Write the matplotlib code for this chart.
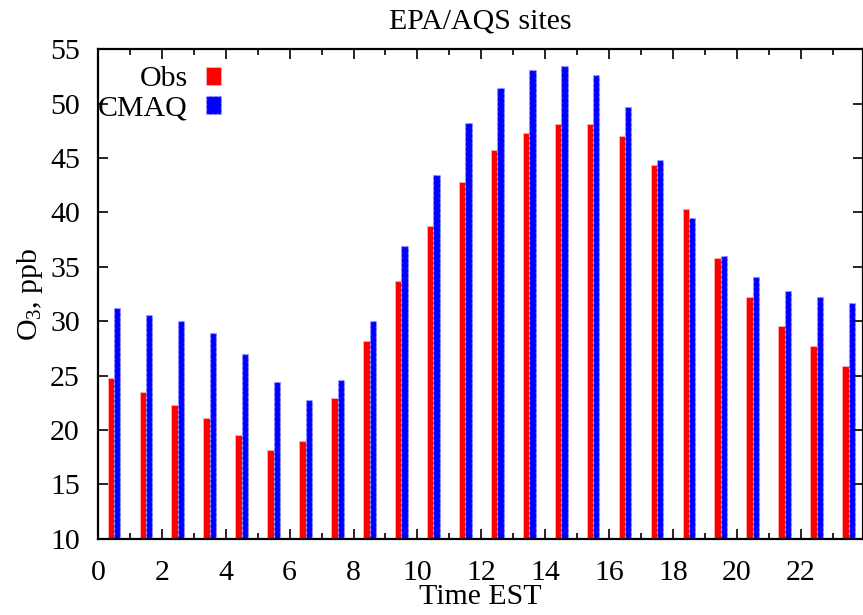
import numpy as np
import matplotlib.pyplot as plt
from matplotlib.ticker import MultipleLocator

hours = np.arange(24)
obs = [24.8, 23.5, 22.3, 21.1, 19.5, 18.2, 19.0, 22.9, 28.2, 33.7, 38.8, 42.8,
       45.7, 47.3, 48.1, 48.1, 47.0, 44.4, 40.3, 35.8, 32.2, 29.6, 27.7, 25.9]
cmaq = [31.2, 30.6, 30.0, 28.9, 27.0, 24.4, 22.8, 24.6, 30.0, 36.9, 43.4, 48.2,
        51.4, 53.1, 53.5, 52.6, 49.7, 44.8, 39.5, 36.0, 34.1, 32.8, 32.2, 31.7]

plt.rcParams['font.family'] = ['Liberation Serif', 'DejaVu Serif']
plt.rcParams['mathtext.fontset'] = 'custom'
plt.rcParams['mathtext.rm'] = 'Liberation Serif'
plt.rcParams['mathtext.it'] = 'Liberation Serif:italic'
fs = 21.5

fig = plt.figure(figsize=(8.63, 6.15), dpi=100)
ax = fig.add_axes([0.1136, 0.124, 0.8864, 0.7958])

w = 0.2
ax.bar(hours + 0.3, obs, width=w, align='edge', bottom=0, color='#ff0000',
       edgecolor='#ffb0b0', linewidth=0.6, label='Obs')
ax.bar(hours + 0.5, cmaq, width=w, align='edge', bottom=0, color='#0000ff',
       edgecolor='#a0a0ff', linewidth=0.9, linestyle=(0, (2, 2)), label='CMAQ')

ax.set_xlim(0, 23.95)
ax.set_ylim(10, 55)
ax.xaxis.set_minor_locator(MultipleLocator(1))
ax.yaxis.set_major_locator(MultipleLocator(5))
ax.set_xticks(np.arange(0, 23, 2))
ax.tick_params(which='both', direction='in', top=True, right=True, labelsize=fs, width=1.2)
ax.tick_params(which='major', length=7)
ax.tick_params(axis='x', which='major', pad=15)
ax.tick_params(axis='y', which='major', pad=13)
ax.tick_params(which='minor', length=4)
for s in ax.spines.values():
    s.set_linewidth(1.6)

ax.set_xlabel('Time EST', fontsize=fs, labelpad=-1)
ax.set_ylabel('O$_3$, ppb', fontsize=fs, labelpad=4)
ax.set_title('EPA/AQS sites', fontsize=fs, pad=15)

ax.legend(loc='upper left', bbox_to_anchor=(0.0, 0.965), markerfirst=False, frameon=False,
          fontsize=fs, handlelength=0.52, handleheight=0.52, handletextpad=0.6,
          labelspacing=0.1, borderaxespad=0, borderpad=0)

fig.savefig('out.png', dpi=100)
